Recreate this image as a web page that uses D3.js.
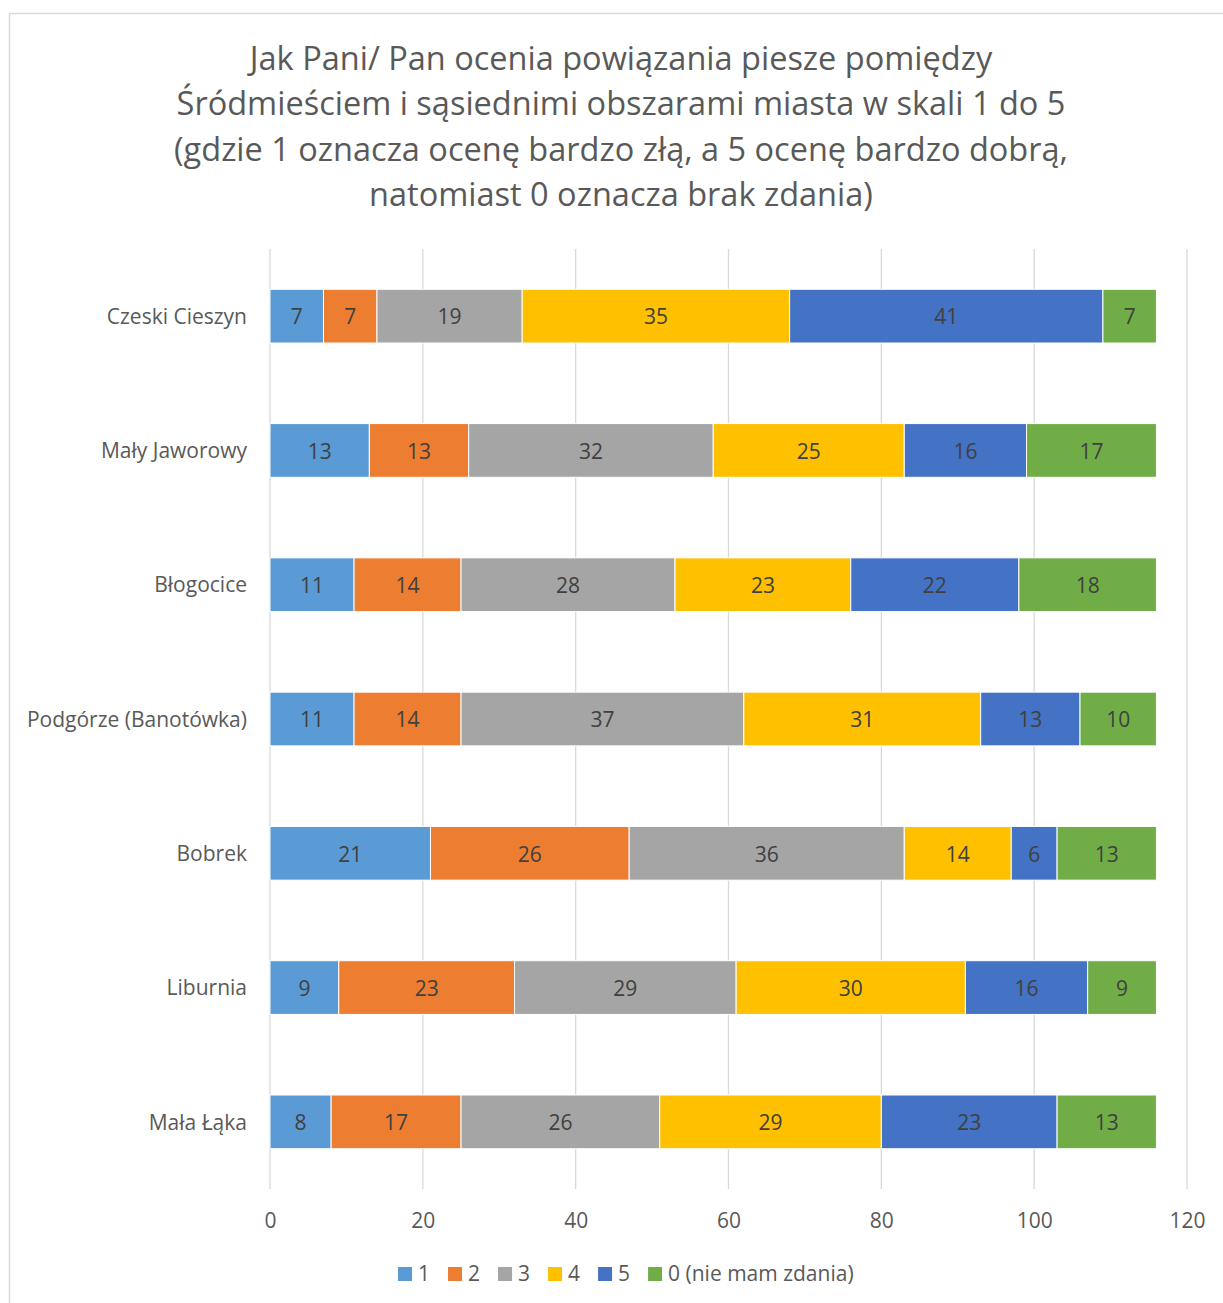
<!DOCTYPE html>
<html><head><meta charset="utf-8">
<script src="https://cdn.jsdelivr.net/npm/d3@7"></script>
<style>body{margin:0;background:#fff}svg{display:block}</style>
</head><body>
<svg id="c" width="1223" height="1303"></svg>
<script>
const categories = ["Czeski Cieszyn","Mały Jaworowy","Błogocice","Podgórze (Banotówka)","Bobrek","Liburnia","Mała Łąka"];
const seriesNames = ["1","2","3","4","5","0 (nie mam zdania)"];
const s1 = [7,13,11,11,21,9,8];
const s2 = [7,13,14,14,26,23,17];
const s3 = [19,32,28,37,36,29,26];
const s4 = [35,25,23,31,14,30,29];
const s5 = [41,16,22,13,6,16,23];
const s0 = [7,17,18,10,13,9,13];
const xTicks = [0,20,40,60,80,100,120];
const colors = ["#5b9bd5","#ed7d31","#a5a5a5","#ffc000","#4472c4","#70ad47"];
const titleLines = ["Jak Pani/ Pan ocenia powiązania piesze pomiędzy","Śródmieściem i sąsiednimi obszarami miasta w skali 1 do 5","(gdzie 1 oznacza ocenę bardzo złą, a 5 ocenę bardzo dobrą,","natomiast 0 oznacza brak zdania)"];

const series = [s1,s2,s3,s4,s5,s0];
const font = "'Open Sans', sans-serif";
const svg = d3.select("#c");
svg.append("rect").attr("x",9.5).attr("y",13.5).attr("width",1220).attr("height",1300).attr("fill","#fff").attr("stroke","#d9d9d9").attr("stroke-width",1.5);

const title = svg.append("text").attr("text-anchor","middle").attr("fill","#595959").style("font-family",font).style("font-size","32.5px");
titleLines.forEach((t,i)=>title.append("tspan").attr("x",621).attr("y",70+i*45.3).text(t));

const x = d3.scaleLinear().domain([0,120]).range([270,1187]);
const y = d3.scaleBand().domain(categories).range([249,1189]).paddingInner(0.6).paddingOuter(0.3);

const grid = svg.append("g");
grid.selectAll("line").data(xTicks).join("line")
  .attr("x1",d=>x(d)).attr("x2",d=>x(d)).attr("y1",249).attr("y2",1189)
  .attr("stroke","#d9d9d9").attr("stroke-width",1.3);

const xAxis = svg.append("g").attr("transform","translate(0,1189)")
  .call(d3.axisBottom(x).tickValues(xTicks).tickSize(0).tickPadding(24));
xAxis.select(".domain").remove();
xAxis.selectAll("text").attr("fill","#595959").style("font-family",font).style("font-size","21px");

const yAxis = svg.append("g").attr("transform","translate(247,1)")
  .call(d3.axisLeft(y).tickSize(0).tickPadding(0));
yAxis.select(".domain").remove();
yAxis.selectAll("text").attr("fill","#595959").style("font-family",font).style("font-size","21px");

const stackData = categories.map((c,i)=>{const o={cat:c}; seriesNames.forEach((s,j)=>o[s]=series[j][i]); return o;});
const stacked = d3.stack().keys(seriesNames)(stackData);
const layers = svg.selectAll("g.layer").data(stacked).join("g").attr("class","layer").attr("fill",(d,i)=>colors[i]);
layers.selectAll("rect").data(d=>d).join("rect")
  .attr("x",d=>x(d[0])).attr("width",d=>x(d[1])-x(d[0]))
  .attr("y",d=>y(d.data.cat)).attr("height",y.bandwidth())
  .attr("stroke","#fff").attr("stroke-width",1);
layers.selectAll("text").data(d=>d).join("text")
  .attr("x",d=>(x(d[0])+x(d[1]))/2).attr("y",d=>y(d.data.cat)+y.bandwidth()/2+1)
  .attr("dy","0.35em").attr("text-anchor","middle").attr("fill","#404040")
  .style("font-family",font).style("font-size","21px")
  .text(d=>d[1]-d[0]);

const legend = svg.append("g").style("font-family",font).style("font-size","21px");
let cx = 398;
seriesNames.forEach((s,i)=>{
  const g = legend.append("g").attr("transform",`translate(${cx},1267)`);
  g.append("rect").attr("width",14).attr("height",14).attr("fill",colors[i]);
  const t = g.append("text").attr("x",20).attr("y",7).attr("dy","0.35em").attr("fill","#595959").text(s);
  cx += 20 + t.node().getComputedTextLength() + 18;
});
</script>
</body></html>
